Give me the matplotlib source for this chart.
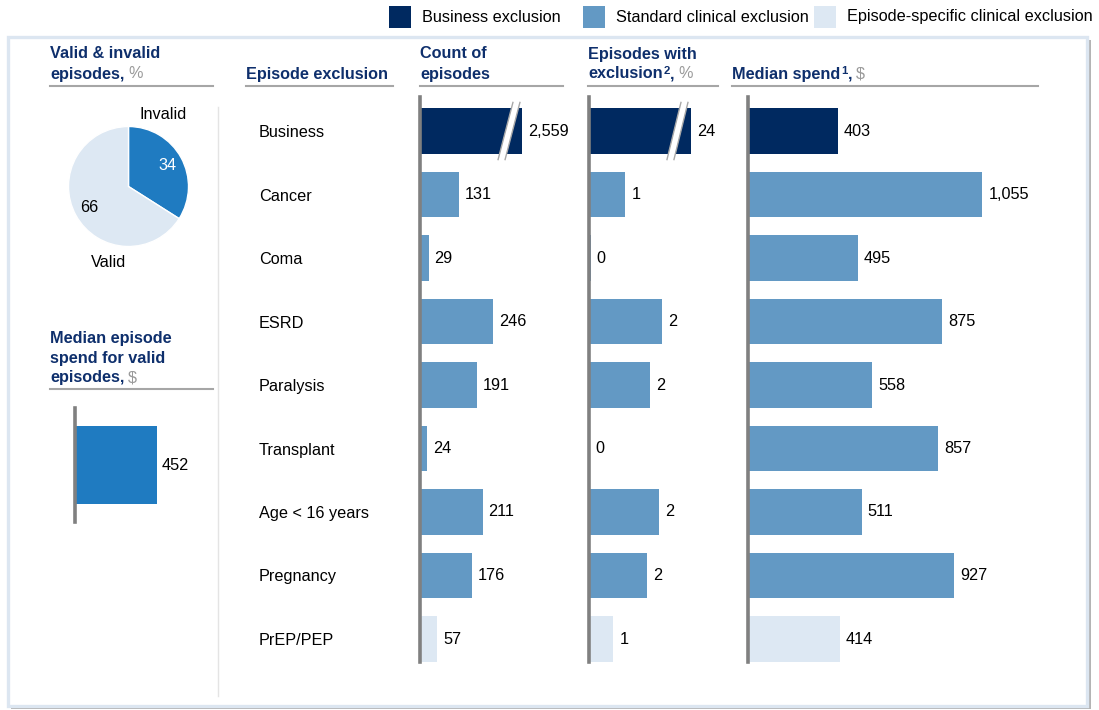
import matplotlib
matplotlib.use("Agg")
import matplotlib.pyplot as plt
from matplotlib.patches import Rectangle, Polygon

plt.rcParams["font.family"] = ["Liberation Sans", "DejaVu Sans"]

# ---- data ----
categories = ["Business", "Cancer", "Coma", "ESRD", "Paralysis", "Transplant",
              "Age < 16 years", "Pregnancy", "PrEP/PEP"]
exclusion_type = ["business", "standard", "standard", "standard", "standard",
                  "standard", "standard", "standard", "episode"]
episode_counts = [2559, 131, 29, 246, 191, 24, 211, 176, 57]
pct_with_exclusion = [24, 1.2, 0.05, 2.4, 2.0, 0.0, 2.3, 1.9, 0.8]
median_spend = [403, 1055, 495, 875, 558, 857, 511, 927, 414]

pie_labels = ["Invalid", "Valid"]
pie_shares = [34, 66]
valid_median_spend = 452

legend_labels = ["Business exclusion", "Standard clinical exclusion",
                 "Episode-specific clinical exclusion"]

# ---- styling ----
NAVY_TXT = "#0e2f6c"
GREY_TXT = "#9a9a9a"
COLORS = {"business": "#002960", "standard": "#6399c4", "episode": "#dde8f3"}
AXIS_GREY = "#808080"
FS = 11.7
FS_SUP = 8.2

W, H = 1099, 710
fig = plt.figure(figsize=(W / 100, H / 100), dpi=100)


def box(x0, y0, x1, y1):
    return [x0 / W, 1 - y1 / H, (x1 - x0) / W, (y1 - y0) / H]


def fx(x):
    return x / W


def fy(y):
    return 1 - y / H


# ---- frame with drop shadow (kept below all axes) ----
fig.add_artist(Rectangle((fx(11), fy(709)), fx(1091) - fx(11), fy(40) - fy(709),
                         transform=fig.transFigure, facecolor="#b4b4b4",
                         edgecolor="none", zorder=-3))
fig.add_artist(Rectangle((fx(8), fy(706)), fx(1087) - fx(8), fy(37) - fy(706),
                         transform=fig.transFigure, facecolor="white",
                         edgecolor="#dce6f1", linewidth=2.4, zorder=-2))

# vertical separator between left panels and the table
fig.add_artist(plt.Line2D([fx(218), fx(218)], [fy(107), fy(696)],
                          transform=fig.transFigure, color="#e4e4e4", lw=1,
                          zorder=-1))

# ---- legend ----
legend_sq_x = [389, 583, 814]
for lx, lab, key in zip(legend_sq_x, legend_labels, ["business", "standard", "episode"]):
    fig.add_artist(Rectangle((fx(lx), fy(28)), fx(22), fy(6) - fy(28),
                             transform=fig.transFigure, facecolor=COLORS[key],
                             edgecolor="none"))
    fig.text(fx(lx + 33), fy(17), lab, fontsize=FS, color="black",
             va="center", ha="left")

# axes holding the header texts, superscripts and grey unit suffixes
hdr_ax = fig.add_axes([0, 0, 1, 1], facecolor="none")
hdr_ax.set_axis_off()


def header(x, lines, last, y_last, x_line_end, y_line, gap=20):
    """lines: plain bold lines above; last: list of (text, kind) pieces."""
    n = len(lines) + 1
    for k, line in enumerate(lines):
        y = y_last - (n - 1 - k) * gap
        hdr_ax.text(fx(x), fy(y), line, fontsize=FS, fontweight="bold",
                    color=NAVY_TXT, va="center", ha="left",
                    transform=hdr_ax.transAxes)
    base = hdr_ax.text(fx(x), fy(y_last), last[0][0], fontsize=FS,
                       fontweight="bold", color=NAVY_TXT, va="center",
                       ha="left", transform=hdr_ax.transAxes)
    prev = base
    for txt, kind in last[1:]:
        if kind == "sup":
            prev = hdr_ax.annotate(txt, xy=(1, 1), xycoords=base,
                                   xytext=(1, 1), textcoords="offset pixels",
                                   fontsize=FS_SUP, fontweight="bold",
                                   color=NAVY_TXT, va="top", ha="left",
                                   annotation_clip=False)
        elif kind == "grey":
            prev = hdr_ax.annotate(txt, xy=(1, 0), xycoords=(prev, base),
                                   xytext=(4, 0), textcoords="offset pixels",
                                   fontsize=FS, color=GREY_TXT,
                                   va="bottom", ha="left", annotation_clip=False)
        else:
            prev = hdr_ax.annotate(txt, xy=(1, 0), xycoords=(prev, base),
                                   xytext=(0, 0), textcoords="offset pixels",
                                   fontsize=FS, fontweight="bold",
                                   color=NAVY_TXT, va="bottom", ha="left",
                                   annotation_clip=False)
    hdr_ax.plot([fx(x), fx(x_line_end)], [fy(y_line), fy(y_line)],
                transform=hdr_ax.transAxes, color="#a6a6a6", lw=1.5)


header(50, ["Valid & invalid"], [("episodes,", "main"), ("%", "grey")], 74, 213, 86)
header(246, [], [("Episode exclusion", "main")], 74, 393, 86)
header(420, ["Count of"], [("episodes", "main")], 74, 563, 86)
header(588, ["Episodes with"],
       [("exclusion", "main"), ("2", "sup"), (",", "main"), ("%", "grey")], 74, 718, 86)
header(732, [], [("Median spend", "main"), ("1", "sup"), (",", "main"), ("$", "grey")],
       74, 1038, 86)
header(50, ["Median episode", "spend for valid"], [("episodes,", "main"), ("$", "grey")],
       378, 213, 389)

# ---- pie of valid / invalid ----
pax = fig.add_axes(box(68.5, 126.5, 188.5, 246.5))
wedges, texts, autotexts = pax.pie(
    pie_shares, labels=pie_labels, colors=["#1f7bc1", "#dde8f3"],
    startangle=90, counterclock=False, autopct="%.0f", pctdistance=0.74,
    wedgeprops=dict(edgecolor="white", linewidth=1),
    textprops=dict(fontsize=FS), radius=1)
pax.set_xlim(-1, 1)
pax.set_ylim(-1, 1)
pax.set_aspect("equal")
texts[0].set_position((0.58, 1.2))
texts[0].set_ha("center"); texts[0].set_va("center")
texts[1].set_position((-0.33, -1.26))
texts[1].set_ha("center"); texts[1].set_va("center")
autotexts[0].set_color("white")
autotexts[1].set_color("black")
for t in texts + autotexts:
    t.set_clip_on(False)

# ---- table columns ----
Y_TOP, Y_BOT = 97, 662
ROW0, STEP = 131, 63.5
ylim = ((Y_BOT - ROW0) / STEP, (Y_TOP - ROW0) / STEP)
BAR_H = 0.71
rows = list(range(len(categories)))
bar_colors = [COLORS[k] for k in exclusion_type]


def style_col(ax):
    for s in ("top", "right", "bottom"):
        ax.spines[s].set_visible(False)
    ax.spines["left"].set_color(AXIS_GREY)
    ax.spines["left"].set_linewidth(2.6)
    ax.set_xticks([])
    ax.set_ylim(*ylim)
    ax.patch.set_alpha(0)


# ---- median spend for valid episodes ----
vax = fig.add_axes(box(75, 408, 210, 522))
vax.barh([0], [valid_median_spend], height=0.69, color="#1f7bc1", left=0)
style_col(vax)
vax.set_xlim(0, 135 / (82 / 452))
vax.set_ylim(-0.5, 0.5)
vax.set_yticks([])
vax.annotate(f"{valid_median_spend}", xy=(valid_median_spend, 0), xytext=(5, 0),
             textcoords="offset pixels", va="center", ha="left", fontsize=FS)


def draw_break(ax, c, i, g, dx):
    yb, yt = i + 0.45, i - 0.45
    poly = Polygon([(c - g - dx, yb), (c - g + dx, yt), (c + g + dx, yt), (c + g - dx, yb)],
                   closed=True, facecolor="white", edgecolor="none", zorder=3)
    ax.add_patch(poly)
    for off in (-g, g):
        ax.plot([c + off - dx, c + off + dx], [yb, yt], color="#a8a8a8", lw=1, zorder=4)


def bar_column(x0, x1, px_per_unit, values, fmt, cap=None, brk=None):
    ax = fig.add_axes(box(x0, Y_TOP, x1, Y_BOT))
    shown = [min(v, cap) if cap is not None else v for v in values]
    ax.barh(rows, shown, height=BAR_H, color=bar_colors, left=0)
    ax.set_xlim(0, (x1 - x0) / px_per_unit)
    style_col(ax)
    for i, (v, s) in enumerate(zip(values, shown)):
        ax.annotate(fmt(v), xy=(s, i), xytext=(6, 0), textcoords="offset pixels",
                    va="center", ha="left", fontsize=FS)
        if cap is not None and v > cap and brk is not None:
            c, g, dx = brk
            draw_break(ax, c, i, g, dx)
    return ax


cax = bar_column(420, 585, 0.2967, episode_counts, lambda v: f"{v:,}",
                 cap=343, brk=(300, 11.8, 25))
cax.set_yticks(rows, labels=categories)
cax.tick_params(axis="y", length=0, pad=116, labelsize=FS)
for lab in cax.get_yticklabels():
    lab.set_ha("left")

pct_ax = bar_column(589, 742, 30.4, pct_with_exclusion, lambda v: f"{v:.0f}",
                    cap=3.36, brk=(2.91, 0.115, 0.23))
pct_ax.set_yticks([])

med_ax = bar_column(748, 1080, 0.2222, median_spend, lambda v: f"{v:,}")
med_ax.set_yticks([])

fig.savefig("out.png", dpi=100, facecolor="white")
